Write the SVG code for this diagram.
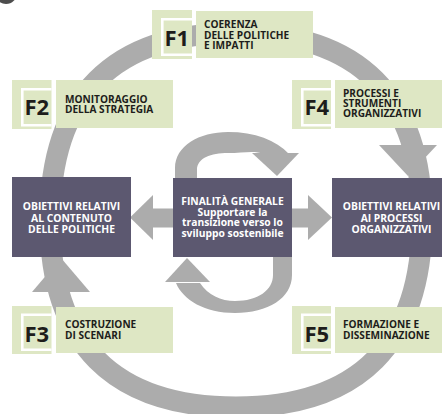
<svg xmlns="http://www.w3.org/2000/svg" width="442" height="414" viewBox="0 0 442 414">
  <style>
    .ring { fill: none; stroke: #acacac; stroke-width: 21; }
    .head { fill: #acacac; }
    .box { fill: #5c5870; }
    .tile { fill: #dee7c4; }
    .frame { fill: none; stroke: #ffffff; stroke-width: 2.6; }
    .wt { font-family: "Open Sans", "Liberation Sans", sans-serif; font-weight: 700; font-size: 10.3px; fill: #ffffff; text-anchor: middle; }
    .fk { font-family: "Open Sans", "Liberation Sans", sans-serif; font-weight: 700; font-size: 22px; fill: #1d1d1b; }
    .lb { font-family: "Open Sans", "Liberation Sans", sans-serif; font-weight: 700; font-size: 10.1px; fill: #1d1d1b; }
  </style>

  <!-- corner bullet -->
  <circle cx="6" cy="-7" r="11" fill="#4d4d4d"/>

  <g id="connectors">
    <!-- outer cycle -->
    <path class="ring" d="M236 33 C358.8 33 422 96.6 422 220 C422 343.4 358.8 407 236 407 C113.2 407 50 343.4 50 220 C50 96.6 113.2 33 236 33 Z"/>
    <polygon class="head" points="379,145 437,145 408,176"/>
    <polygon class="head" points="32,292 90,292 61,258"/>
    <!-- inner loop around the central box: upper arc -->
    <path class="head" d="M175 179 V168 C175 146 199 132 228 132 C255 132 276 140 289 154 L263 154 C255 150 243 153 228 153 C211 153 197 158 197 170 V179 Z"/>
    <polygon class="head" points="252,153 299,153 277,176"/>
    <!-- inner loop: lower arc -->
    <path class="head" d="M292 256 V275 C292 298 268 313 235 313 C205 313 183 300 176 283 L200 283 C208 295 221 301 235 301 C258 301 273 290 273 275 V256 Z"/>
    <polygon class="head" points="165,282 210,282 187,258"/>
    <!-- arrows from the central box -->
    <rect class="head" x="150" y="208.5" width="25" height="19"/>
    <polygon class="head" points="153,195 153,240 130,217.5"/>
    <rect class="head" x="290" y="208.5" width="20" height="19"/>
    <polygon class="head" points="308,195 308,240 332,217.5"/>
  </g>

  <g id="obiettivi-contenuto">
    <rect class="box" x="12" y="177" width="119" height="80"/>
    <text class="wt" x="71.5" y="210">OBIETTIVI RELATIVI</text>
    <text class="wt" x="71.5" y="221.5">AL CONTENUTO</text>
    <text class="wt" x="71.5" y="232.7">DELLE POLITICHE</text>
  </g>

  <g id="finalita">
    <rect class="box" x="173" y="178" width="119" height="79"/>
    <text class="wt" x="232.5" y="205">FINALITÀ GENERALE</text>
    <text class="wt" x="232.5" y="215.5">Supportare la</text>
    <text class="wt" x="232.5" y="226">transizione verso lo</text>
    <text class="wt" x="232.5" y="236.5">sviluppo sostenibile</text>
  </g>

  <g id="obiettivi-processi">
    <rect class="box" x="332" y="178" width="120" height="79"/>
    <text class="wt" x="391.5" y="210">OBIETTIVI RELATIVI</text>
    <text class="wt" x="391.5" y="221.5">AI PROCESSI</text>
    <text class="wt" x="391.5" y="232.7">ORGANIZZATIVI</text>
  </g>

  <g id="f1">
    <rect class="tile" x="152" y="10" width="40" height="49"/>
    <path class="frame" d="M192 19.3 H162.3 V54.7 H192"/>
    <rect class="tile" x="196" y="11" width="117" height="47"/>
    <text class="fk" x="164.5" y="45.5">F1</text>
    <text class="lb" x="204" y="28.3">COERENZA</text>
    <text class="lb" x="204" y="38.8">DELLE POLITICHE</text>
    <text class="lb" x="204" y="49.3">E IMPATTI</text>
  </g>

  <g id="f2">
    <rect class="tile" x="12" y="80" width="39.5" height="49"/>
    <path class="frame" d="M51.5 89.3 H22.3 V125.3 H51.5"/>
    <rect class="tile" x="56" y="80" width="117" height="48"/>
    <text class="fk" x="24.5" y="115">F2</text>
    <text class="lb" x="65" y="102.7">MONITORAGGIO</text>
    <text class="lb" x="65" y="112.7">DELLA STRATEGIA</text>
  </g>

  <g id="f4">
    <rect class="tile" x="292" y="80" width="39" height="49"/>
    <path class="frame" d="M331 89.3 H302.3 V125.3 H331"/>
    <rect class="tile" x="335" y="80" width="110" height="48"/>
    <text class="fk" x="304.5" y="115">F4</text>
    <text class="lb" x="343" y="96.7">PROCESSI E</text>
    <text class="lb" x="343" y="107">STRUMENTI</text>
    <text class="lb" x="343" y="117.3">ORGANIZZATIVI</text>
  </g>

  <g id="f3">
    <rect class="tile" x="12" y="306" width="39.5" height="48"/>
    <path class="frame" d="M51.5 314.8 H22.3 V349.7 H51.5"/>
    <rect class="tile" x="56" y="307" width="117" height="46"/>
    <text class="fk" x="24.5" y="342">F3</text>
    <text class="lb" x="65" y="328.3">COSTRUZIONE</text>
    <text class="lb" x="65" y="339">DI SCENARI</text>
  </g>

  <g id="f5">
    <rect class="tile" x="292" y="306" width="39" height="48"/>
    <path class="frame" d="M331 314.8 H302.3 V349.7 H331"/>
    <rect class="tile" x="335" y="307" width="110" height="46"/>
    <text class="fk" x="304.5" y="342">F5</text>
    <text class="lb" x="343" y="328.3">FORMAZIONE E</text>
    <text class="lb" x="343" y="339">DISSEMINAZIONE</text>
  </g>
</svg>
